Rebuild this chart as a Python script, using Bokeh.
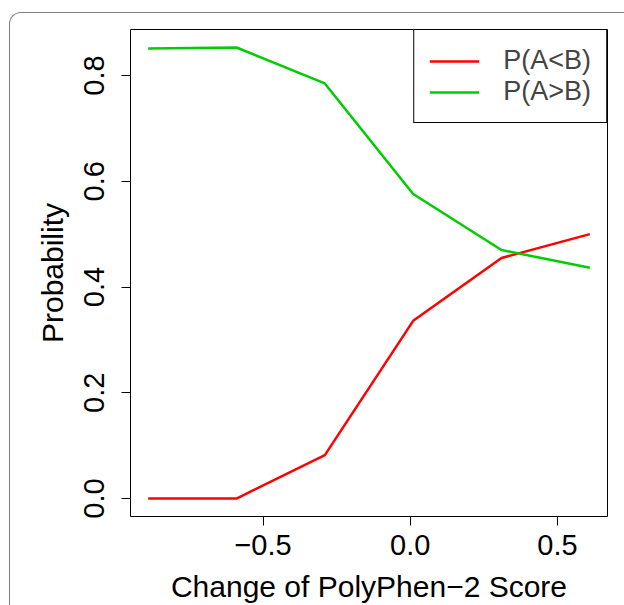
from bokeh.plotting import figure
from bokeh.models import Range1d, FixedTicker, Legend, LegendItem
from bokeh.embed import file_html
from bokeh.resources import INLINE

# Data
score_change = [-0.89, -0.59, -0.29, 0.01, 0.31, 0.61]
p_a_less_b = [0.0, 0.0, 0.082, 0.336, 0.455, 0.50]
p_a_greater_b = [0.851, 0.853, 0.785, 0.576, 0.470, 0.4365]

x_ticks = [-0.5, 0.0, 0.5]
x_tick_labels = ["\u22120.5", "0.0", "0.5"]
y_ticks = [0.0, 0.2, 0.4, 0.6, 0.8]
y_tick_labels = ["0.0", "0.2", "0.4", "0.6", "0.8"]

series_names = ["P(A<B)", "P(A>B)"]
series_colors = ["#FF0000", "#00CD00"]

FONT = "Liberation Sans"

p = figure(width=624, height=605, output_backend="svg", toolbar_location=None,
           x_range=Range1d(-0.95, 0.67), y_range=Range1d(-0.034, 0.887),
           min_border_left=130, min_border_right=17, min_border_top=29, min_border_bottom=89)

p.xgrid.visible = False
p.ygrid.visible = False
p.outline_line_color = "black"
p.outline_line_width = 1
p.background_fill_color = "white"
p.border_fill_color = "white"

r1 = p.line(score_change, p_a_less_b, line_color=series_colors[0], line_width=2.5)
r2 = p.line(score_change, p_a_greater_b, line_color=series_colors[1], line_width=2.5)

for ax, ticks, labels in ((p.xaxis[0], x_ticks, x_tick_labels), (p.yaxis[0], y_ticks, y_tick_labels)):
    ax.ticker = FixedTicker(ticks=ticks)
    ax.major_label_overrides = {t: l for t, l in zip(ticks, labels)}
    ax.axis_line_color = None
    ax.major_tick_in = 0
    ax.major_tick_out = 9
    ax.major_tick_line_color = "black"
    ax.minor_tick_line_color = None
    ax.major_label_text_font = FONT
    ax.major_label_text_font_size = "29px"
    ax.major_label_text_color = "black"
    ax.axis_label_text_font = FONT
    ax.axis_label_text_font_size = "30px"
    ax.axis_label_text_font_style = "normal"
    ax.axis_label_text_color = "black"

p.xaxis.axis_label = "Change of PolyPhen\u22122 Score"
p.yaxis.axis_label = "Probability"
p.yaxis.major_label_orientation = "vertical"
p.xaxis.major_label_standoff = 9
p.yaxis.major_label_standoff = 17
p.xaxis.axis_label_standoff = 12
p.yaxis.axis_label_standoff = 13

legend = Legend(items=[LegendItem(label=series_names[0], renderers=[r1]),
                       LegendItem(label=series_names[1], renderers=[r2])],
                location="top_right", margin=0, padding=15, spacing=0,
                glyph_width=50, label_standoff=24,
                label_text_font=FONT, label_text_font_size="27px",
                border_line_color="black", border_line_width=1, border_line_alpha=1,
                background_fill_alpha=1)
p.add_layout(legend, "center")

# rounded page frame of the original figure (left and top edges visible)
p.stylesheets = [""":host::after {
    content: "";
    position: absolute;
    left: 9px; top: 12px; right: 0px; bottom: 0px;
    border-left: 1.5px solid #808080;
    border-top: 1.5px solid #808080;
    border-top-left-radius: 12px;
    pointer-events: none;
    z-index: 10;
}"""]

open("out.html", "w").write(file_html(p, INLINE))
